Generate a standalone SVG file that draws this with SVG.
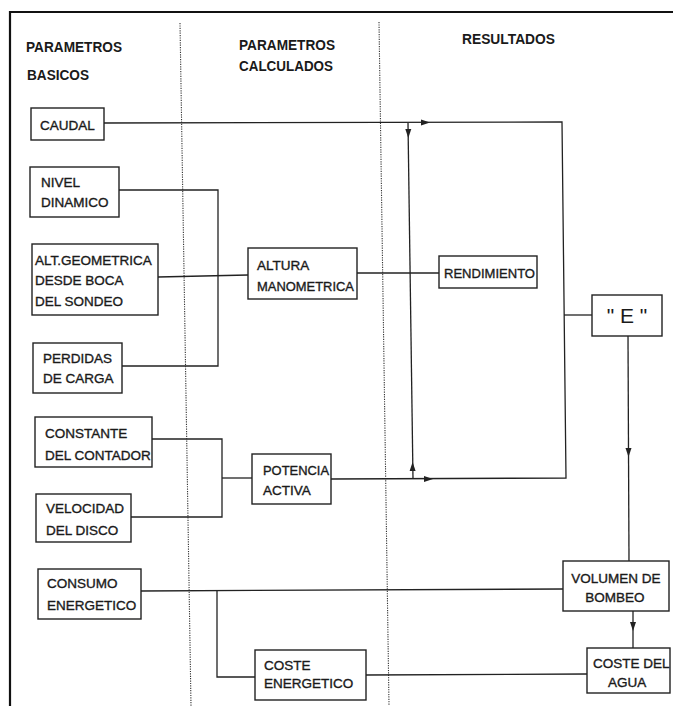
<svg xmlns="http://www.w3.org/2000/svg" width="673" height="706" viewBox="0 0 673 706">
<style>
.frame{stroke:#111;stroke-width:2.2;fill:none}
.div{stroke:#333;stroke-width:1.1;stroke-dasharray:1.2 1.2;fill:none}
.box{fill:#fff;stroke:#222;stroke-width:1.4}
.ln{stroke:#222;stroke-width:1.3;fill:none}
.ah{fill:#222}
.hd{font-family:"Liberation Sans",Arial,sans-serif;font-weight:bold;font-size:14.5px;fill:#1a1a1a}
.t{font-family:"Liberation Sans",Arial,sans-serif;font-size:13.5px;fill:#1a1a1a;stroke:#1a1a1a;stroke-width:0.35}
.e{font-family:"Liberation Sans",Arial,sans-serif;font-size:21px;fill:#1a1a1a}
</style>
<defs>
<path id="ah" d="M0,0 L-9,-3 L-9,3 Z"/>
</defs>
<rect width="673" height="706" fill="#fff"/>
<g id="frame">
<path class="frame" d="M10,706 V12 H673"/>
<path class="div" d="M180,23 L191,706"/>
<path class="div" d="M379,22 L389,706"/>
</g>
<g id="headers">
<text class="hd" x="26" y="52" textLength="96" lengthAdjust="spacingAndGlyphs">PARAMETROS</text>
<text class="hd" x="27" y="80" textLength="62" lengthAdjust="spacingAndGlyphs">BASICOS</text>
<text class="hd" x="239" y="50" textLength="96" lengthAdjust="spacingAndGlyphs">PARAMETROS</text>
<text class="hd" x="239" y="71" textLength="94" lengthAdjust="spacingAndGlyphs">CALCULADOS</text>
<text class="hd" x="462" y="44" textLength="93" lengthAdjust="spacingAndGlyphs">RESULTADOS</text>
</g>
<g id="connectors">
<path class="ln" d="M104,123 L562,122 L566,478 L331,479"/>
<path class="ln" d="M408,123 L413,479"/>
<use href="#ah" class="ah" transform="translate(430,122.5)"/>
<use href="#ah" class="ah" transform="translate(408.3,138) rotate(90)"/>
<use href="#ah" class="ah" transform="translate(412.6,462) rotate(-90)"/>
<use href="#ah" class="ah" transform="translate(433,479)"/>
<path class="ln" d="M119,190 H218 V366 H122"/>
<path class="ln" d="M158,277 L248,275"/>
<path class="ln" d="M357,273 H439"/>
<path class="ln" d="M564,315 H592"/>
<path class="ln" d="M628,336 L629,561"/>
<use href="#ah" class="ah" transform="translate(628.5,457) rotate(90)"/>
<path class="ln" d="M152,439 H222 V517 H131"/>
<path class="ln" d="M222,478 H252"/>
<path class="ln" d="M141,591 L563,589"/>
<path class="ln" d="M217,591 V677 H255"/>
<path class="ln" d="M366,675 L587,674"/>
<path class="ln" d="M633,611 V648"/>
<use href="#ah" class="ah" transform="translate(633,631) rotate(90)"/>
</g>
<g id="caudal">
<rect class="box" x="31" y="108" width="73" height="32"/>
<text class="t" x="40" y="130">CAUDAL</text>
</g>
<g id="nivel">
<rect class="box" x="30" y="167" width="89" height="50"/>
<text class="t" x="41" y="187">NIVEL</text>
<text class="t" x="41" y="207">DINAMICO</text>
</g>
<g id="altgeo">
<rect class="box" x="32" y="244" width="126" height="71"/>
<text class="t" x="35" y="265">ALT.GEOMETRICA</text>
<text class="t" x="35" y="285">DESDE BOCA</text>
<text class="t" x="35" y="306">DEL SONDEO</text>
</g>
<g id="perdidas">
<rect class="box" x="33" y="343" width="89" height="50"/>
<text class="t" x="43" y="363">PERDIDAS</text>
<text class="t" x="43" y="383">DE CARGA</text>
</g>
<g id="constante">
<rect class="box" x="35" y="417" width="117" height="50"/>
<text class="t" x="45" y="438">CONSTANTE</text>
<text class="t" x="45" y="460">DEL CONTADOR</text>
</g>
<g id="velocidad">
<rect class="box" x="36" y="494" width="95" height="48"/>
<text class="t" x="46" y="513">VELOCIDAD</text>
<text class="t" x="46" y="535">DEL DISCO</text>
</g>
<g id="consumo">
<rect class="box" x="38" y="569" width="103" height="50"/>
<text class="t" x="47" y="588">CONSUMO</text>
<text class="t" x="47" y="610">ENERGETICO</text>
</g>
<g id="altura">
<rect class="box" x="248" y="248" width="109" height="51"/>
<text class="t" x="257" y="270">ALTURA</text>
<text class="t" x="257" y="291" textLength="97" lengthAdjust="spacingAndGlyphs">MANOMETRICA</text>
</g>
<g id="potencia">
<rect class="box" x="252" y="454" width="79" height="50"/>
<text class="t" x="263" y="475" textLength="66" lengthAdjust="spacingAndGlyphs">POTENCIA</text>
<text class="t" x="263" y="495">ACTIVA</text>
</g>
<g id="coste-energetico">
<rect class="box" x="255" y="650" width="111" height="50"/>
<text class="t" x="264" y="670">COSTE</text>
<text class="t" x="264" y="688">ENERGETICO</text>
</g>
<g id="rendimiento">
<rect class="box" x="439" y="256" width="98" height="32"/>
<text class="t" x="444" y="278" textLength="91" lengthAdjust="spacingAndGlyphs">RENDIMIENTO</text>
</g>
<g id="e">
<rect class="box" x="592" y="295" width="70" height="41"/>
<text class="e" x="627" y="323" text-anchor="middle">" E "</text>
</g>
<g id="volumen">
<rect class="box" x="563" y="561" width="106" height="50"/>
<text class="t" x="616" y="583" text-anchor="middle">VOLUMEN DE</text>
<text class="t" x="615" y="602" text-anchor="middle">BOMBEO</text>
</g>
<g id="coste-agua">
<rect class="box" x="587" y="648" width="83" height="45"/>
<text class="t" x="593" y="668">COSTE DEL</text>
<text class="t" x="608" y="687">AGUA</text>
</g>
</svg>
